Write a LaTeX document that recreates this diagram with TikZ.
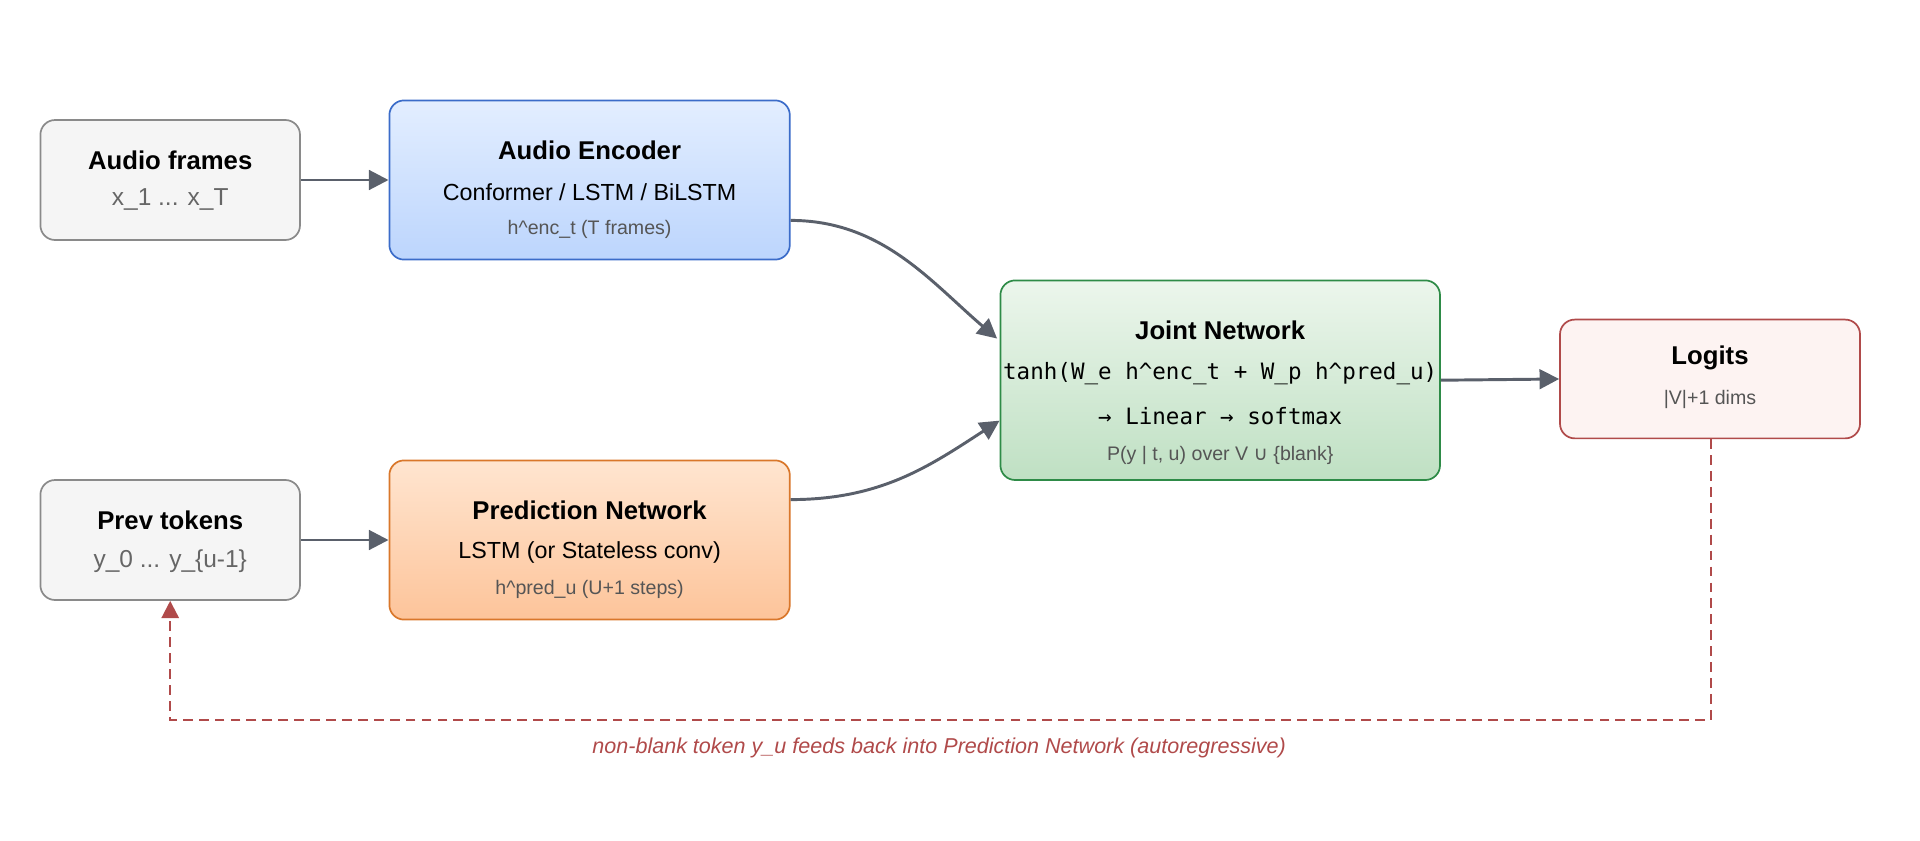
\documentclass[tikz,border=0pt]{standalone}
\usepackage{fontspec}
\setmainfont{Liberation Sans}
\newfontfamily\monofont{DejaVu Sans Mono}
\newfontfamily\symfont{DejaVu Sans}
\usetikzlibrary{arrows.meta,positioning,calc}
\definecolor{edgegray}{HTML}{5A606B}
\definecolor{boxgray}{HTML}{8A8A8A}
\definecolor{encline}{HTML}{3B6CC9}
\definecolor{predline}{HTML}{D9772B}
\definecolor{jointline}{HTML}{2E8B47}
\definecolor{logline}{HTML}{B04A4A}
\definecolor{subgray}{HTML}{555555}
\tikzset{
  box/.style={draw,rounded corners=6pt,line width=0.7pt,inner sep=0pt},
  inbox/.style={box,draw=boxgray,fill=black!4},
  title/.style={font=\fontsize{10.5}{12}\selectfont\bfseries},
  sub/.style={font=\fontsize{9.5}{11}\selectfont},
  small/.style={font=\fontsize{8}{9}\selectfont,text=subgray},
  flow/.style={-{Triangle[length=8pt,width=8pt]},line width=1.2pt,draw=edgegray},
}
\begin{document}
\begin{tikzpicture}[x=0.5pt,y=-0.5pt]
\useasboundingbox (0,0) rectangle (1568,686);
% input boxes
\node[inbox,minimum width=106pt,minimum height=49pt] (frames) at (139,147) {};
\node[inbox,minimum width=106pt,minimum height=49pt] (prev) at (139,441) {};
\node[title] (framesT) at (139,131) {Audio frames};
\node[sub,font=\fontsize{10}{12}\selectfont,text=black!60] (framesS) at (139,163) {x\_1 ... x\_T};
\node[title] (prevT) at (139,425) {Prev tokens};
\node[sub,font=\fontsize{10}{12}\selectfont,text=black!60] (prevS) at (139,458) {y\_0 ... y\_\{u-1\}};
% encoder and predictor
\node[box,draw=encline,top color={rgb,255:red,227;green,238;blue,255},bottom color={rgb,255:red,188;green,213;blue,253},
  minimum width=163.5pt,minimum height=65pt] (enc) at (481.5,147) {};
\node[title] (encT) at (481.5,123) {Audio Encoder};
\node[sub] (encS) at (481.5,157) {Conformer / LSTM / BiLSTM};
\node[small] (encU) at (481.5,187) {h\textasciicircum enc\_t (T frames)};
\node[box,draw=predline,top color={rgb,255:red,255;green,229;blue,208},bottom color={rgb,255:red,253;green,196;blue,154},
  minimum width=163.5pt,minimum height=65pt] (pred) at (481.5,441) {};
\node[title] (predT) at (481.5,417) {Prediction Network};
\node[sub] (predS) at (481.5,451) {LSTM (or Stateless conv)};
\node[small] (predU) at (481.5,481) {h\textasciicircum pred\_u (U+1 steps)};
% joint
\node[box,draw=jointline,top color={rgb,255:red,236;green,246;blue,236},bottom color={rgb,255:red,191;green,224;blue,195},
  minimum width=179.5pt,minimum height=81.5pt] (joint) at (996.5,310.5) {};
\node[title] (jointT) at (996.5,270) {Joint Network};
\node[sub,font=\monofont\fontsize{9.2}{11}\selectfont] (jointA) at (996.5,305) {tanh(W\_e h\textasciicircum enc\_t + W\_p h\textasciicircum pred\_u)};
\node[sub,font=\monofont\fontsize{9.2}{11}\selectfont] (jointB) at (996.5,340) {→ Linear → softmax};
\node[small] (jointC) at (996.5,372) {P(y | t, u) over V {\symfont ∪} \{blank\}};
% output
\node[box,draw=logline,fill={rgb,255:red,253;green,243;blue,242},minimum width=122.5pt,minimum height=48.5pt] (logits) at (1396.5,309.5) {};
\node[title] (logitsT) at (1396.5,292) {Logits};
\node[small] (logitsS) at (1396.5,326) {|V|+1 dims};
% connectors
\draw[flow] (frames.east) -- (enc.west);
\draw[flow] (prev.east) -- (pred.west);
\draw[flow] ($(enc.east)+(0,33)$) .. controls (720,180) and (760,230) .. ($(joint.west)+(-2,-34)$);
\draw[flow] ($(pred.east)+(0,-33)$) .. controls (720,408) and (760,380) .. ($(joint.west)+(0,33)$);
\draw[flow] (joint.east) -- (logits.west);
\coordinate (loopR) at (1397,588);
\coordinate (loopL) at (139,588);
\draw[logline,line width=0.9pt,dash pattern=on 4pt off 2.5pt,-{Triangle[length=7pt,width=7pt]}]
  (logits.south -| loopR) -- (loopR) -- (loopL) -- (prev.south);
\node[font=\fontsize{8.8}{10}\selectfont\itshape,text=logline] (loopT) at (767,611)
  {non-blank token y\_u feeds back into Prediction Network (autoregressive)};
\end{tikzpicture}
\end{document}
